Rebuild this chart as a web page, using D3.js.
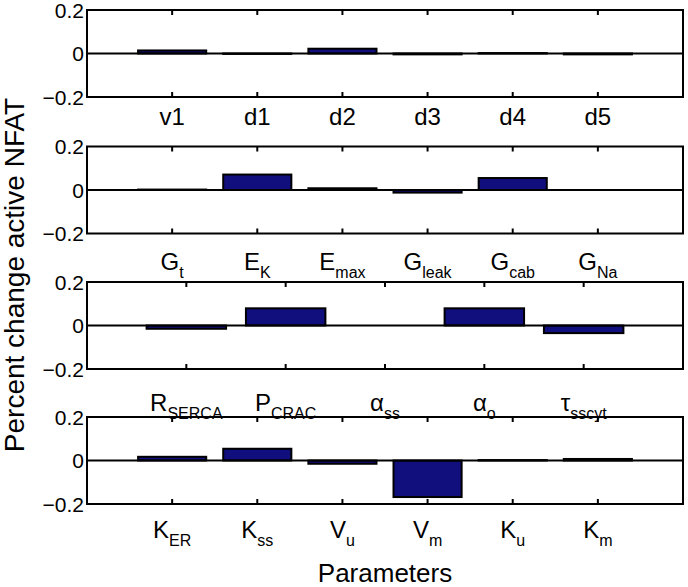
<!DOCTYPE html>
<html>
<head>
<meta charset="utf-8">
<script src="https://cdn.jsdelivr.net/npm/d3@7"></script>
<style>
  html, body { margin: 0; padding: 0; background: #fff; }
  text { font-family: "Liberation Sans", Arial, Helvetica, sans-serif; fill: #000; }
</style>
</head>
<body>
<svg id="chart" width="688" height="587"></svg>
<script>
// ---- data ----
const panel1Labels = ["v1", "d1", "d2", "d3", "d4", "d5"];
const panel1Values = [0.014, -0.002, 0.022, -0.004, 0.002, -0.004];

const panel2Labels = ["G_t", "E_K", "E_max", "G_leak", "G_cab", "G_Na"];
const panel2Values = [0.002, 0.071, 0.008, -0.012, 0.055, 0.0];

const panel3Labels = ["R_SERCA", "P_CRAC", "α_ss", "α_o", "τ_sscyt"];
const panel3Values = [-0.015, 0.079, 0.0, 0.079, -0.035];

const panel4Labels = ["K_ER", "K_ss", "V_u", "V_m", "K_u", "K_m"];
const panel4Values = [0.017, 0.054, -0.015, -0.168, 0.002, 0.007];

const yTicks = [-0.2, 0, 0.2];
const yTickLabels = ["\u22120.2", "0", "0.2"];
const xAxisTitle = "Parameters";
const yAxisTitle = "Percent change active NFAT";

// ---- layout ----
const svg = d3.select("#chart");
const left = 87, right = 683, panelH = 87;
const panelTops = [10, 146.5, 282, 417];
const labelOffsets = [28, 36, 42, 34];
const barColor = "#110e7d";

const panels = [
  {labels: panel1Labels, values: panel1Values},
  {labels: panel2Labels, values: panel2Values},
  {labels: panel3Labels, values: panel3Values},
  {labels: panel4Labels, values: panel4Values}
];

panels.forEach((p, pi) => {
  const top = panelTops[pi], bottom = top + panelH;
  const n = p.labels.length;
  const x = d3.scaleLinear().domain([0, n + 1]).range([left, right]);
  const y = d3.scaleLinear().domain([-0.2, 0.2]).range([bottom, top]);
  const step = x(1) - x(0);
  const bw = step * 0.8;
  const g = svg.append("g");

  // bars
  g.selectAll("rect.bar").data(p.values).enter().append("rect")
    .attr("class", "bar")
    .attr("x", (d, i) => x(i + 1) - bw / 2)
    .attr("width", bw)
    .attr("y", d => Math.min(y(d), y(0)))
    .attr("height", d => Math.abs(y(d) - y(0)))
    .attr("fill", barColor)
    .attr("stroke", "#000")
    .attr("stroke-width", 2);

  // baseline at zero
  g.append("line")
    .attr("x1", left).attr("x2", right)
    .attr("y1", y(0)).attr("y2", y(0))
    .attr("stroke", "#000").attr("stroke-width", 2);

  // x ticks (inward, top & bottom)
  const tickIdx = d3.range(1, n + 1);
  g.selectAll("line.tb").data(tickIdx).enter().append("line")
    .attr("x1", d => x(d)).attr("x2", d => x(d))
    .attr("y1", bottom).attr("y2", bottom - 5)
    .attr("stroke", "#000").attr("stroke-width", 2);
  g.selectAll("line.tt").data(tickIdx).enter().append("line")
    .attr("x1", d => x(d)).attr("x2", d => x(d))
    .attr("y1", top).attr("y2", top + 5)
    .attr("stroke", "#000").attr("stroke-width", 2);

  // box
  g.append("rect")
    .attr("x", left).attr("y", top)
    .attr("width", right - left).attr("height", panelH)
    .attr("fill", "none").attr("stroke", "#000").attr("stroke-width", 2);

  // y tick labels
  g.selectAll("text.yt").data(yTicks).enter().append("text")
    .attr("x", left - 3)
    .attr("y", d => y(d))
    .attr("dy", "0.36em")
    .attr("text-anchor", "end")
    .attr("font-size", 21)
    .text((d, i) => yTickLabels[i]);

  // category labels with subscripts
  const lab = g.selectAll("text.cat").data(p.labels).enter().append("text")
    .attr("x", (d, i) => x(i + 1))
    .attr("y", bottom + labelOffsets[pi])
    .attr("text-anchor", "middle")
    .attr("font-size", 24);
  lab.each(function(d) {
    const parts = d.split("_");
    const t = d3.select(this);
    t.append("tspan").text(parts[0]);
    if (parts.length > 1) {
      t.append("tspan").attr("font-size", 16).attr("dy", 8).text(parts[1]);
    }
  });
});

// axis titles
svg.append("text")
  .attr("x", (left + right) / 2)
  .attr("y", 582)
  .attr("text-anchor", "middle")
  .attr("font-size", 26)
  .text(xAxisTitle);

svg.append("text")
  .attr("transform", "translate(24,275) rotate(-90)")
  .attr("text-anchor", "middle")
  .attr("font-size", 28)
  .text(yAxisTitle);
</script>
</body>
</html>
